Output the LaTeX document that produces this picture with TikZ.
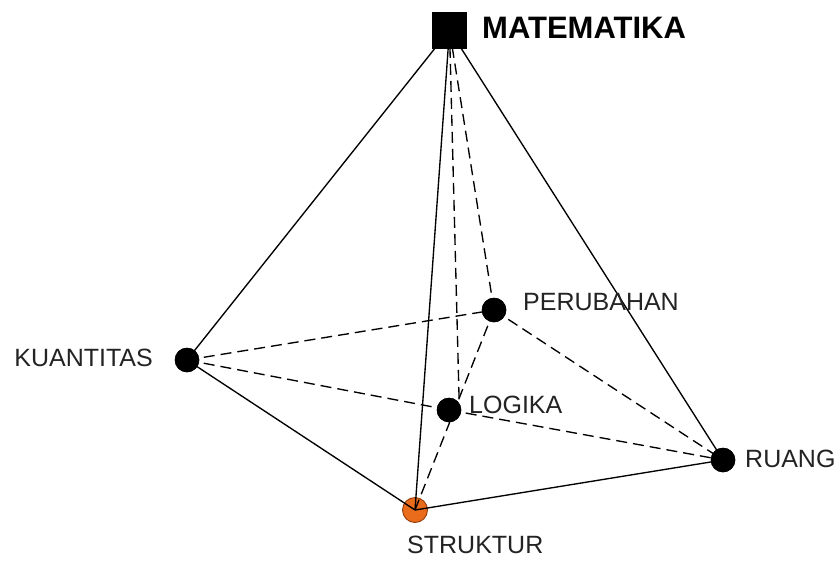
\documentclass[tikz,border=0pt]{standalone}
\usepackage{fontspec}
\setmainfont{Liberation Sans}
\definecolor{txt}{RGB}{35,35,35}
\definecolor{orfill}{RGB}{232,108,28}
\definecolor{ordraw}{RGB}{150,60,10}
\begin{document}
\begin{tikzpicture}[x=1pt,y=-1pt,
  dot/.style={circle,fill=black,inner sep=0pt,minimum size=24.5pt},
  orangedot/.style={circle,fill=orfill,draw=ordraw,line width=0.9pt,inner sep=0pt,minimum size=25pt},
  apexbox/.style={rectangle,fill=black,inner sep=0pt,minimum width=35pt,minimum height=37pt},
  lbl/.style={inner sep=0pt,text=txt,font=\fontsize{25}{25}\selectfont},
  biglbl/.style={inner sep=0pt,text=black,font=\fontsize{31}{31}\selectfont\bfseries},
  edge/.style={line width=1.35pt,draw=black},
  dedge/.style={line width=1.35pt,draw=black,dash pattern=on 11pt off 6pt}]
\useasboundingbox[fill=white] (0,0) rectangle (835,560);
% node positions
\coordinate (A) at (449.5,30);
\node[orangedot] (S) at (415,510) {};
\path (187,360) coordinate (Kc) (494,310) coordinate (Pc) (449,410) coordinate (Lc) (723,460) coordinate (Rc);
\node[dot] (K) at (Kc) {};
\node[dot] (P) at (Pc) {};
\node[dot] (L) at (Lc) {};
\node[dot] (R) at (Rc) {};
% edges
\draw[edge] (A) -- (K.center);
\draw[edge] (A) -- (S.center);
\draw[edge] (A) -- (R.center);
\draw[edge] (K.center) -- (S.center);
\draw[edge] (S.center) -- (R.center);
\draw[dedge] (A) -- (L.35);
\draw[dedge] (A) -- (P.center);
\draw[dedge] (K.center) -- (P.center);
\draw[dedge] (K.center) -- (L.center);
\draw[dedge] (L.center) -- (R.center);
\draw[dedge] (P.center) -- (R.center);
\draw[dedge] (P.center) -- (S.center);
% nodes on top
\node[dot] at (Kc) {};
\node[dot] at (Pc) {};
\node[dot] at (Lc) {};
\node[dot] at (Rc) {};
\node[apexbox] (M) at (A) {};
% labels
\node[biglbl,anchor=west] (tM) at (482,28) {MATEMATIKA};
\node[lbl,anchor=east] (tK) at (153,358) {KUANTITAS};
\node[lbl,anchor=west] (tP) at (523,302) {PERUBAHAN};
\node[lbl,anchor=west] (tL) at (469,405) {LOGIKA};
\node[lbl,anchor=west] (tR) at (745,459) {RUANG};
\node[lbl,anchor=west] (tS) at (407,545) {STRUKTUR};
\end{tikzpicture}
\end{document}
